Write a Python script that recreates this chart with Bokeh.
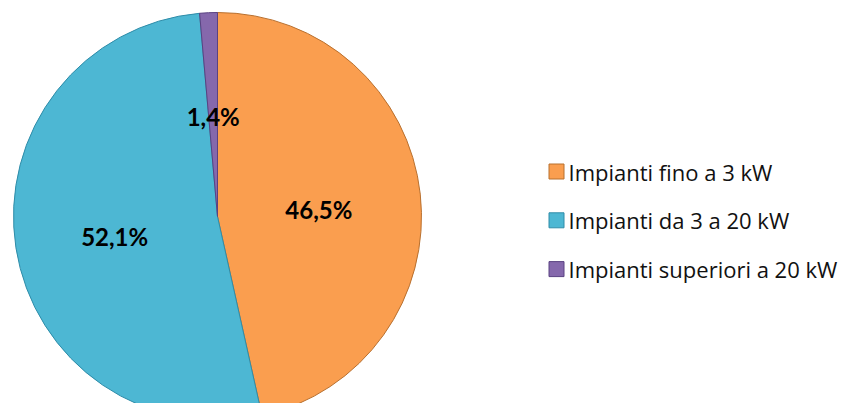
import numpy as np
from bokeh.plotting import figure
from bokeh.models import ColumnDataSource
from bokeh.core.properties import value
from bokeh.embed import file_html
from bokeh.resources import INLINE

# ---- data ----
categories = ["Impianti fino a 3 kW", "Impianti da 3 a 20 kW", "Impianti superiori a 20 kW"]
shares = [46.5, 52.1, 1.4]
share_labels = ["46,5%", "52,1%", "1,4%"]
colors = ["#FA9E4F", "#4DB7D3", "#8568AC"]
edge_colors = ["#B8702F", "#2F8CA8", "#5A4282"]

# ---- layout (pixel units) ----
W, H = 842, 403
cx, cy, R = 217, H - 216, 204
label_rfrac = [0.50, 0.51, 0.48]
label_nudge = [-4, -4, 2]
legend_x, legend_top, legend_step = 556, H - 171, 48.8

p = figure(width=W, height=H, x_range=(0, W), y_range=(0, H),
           output_backend="svg", toolbar_location=None, min_border=0)
p.axis.visible = False
p.grid.visible = False
p.outline_line_color = None
p.background_fill_color = "white"
p.border_fill_color = "white"

fr = np.array(shares, dtype=float) / sum(shares)
ends = np.cumsum(fr)
starts = ends - fr
start_angle = np.pi / 2 - starts * 2 * np.pi
end_angle = np.pi / 2 - ends * 2 * np.pi
mid_angle = (start_angle + end_angle) / 2

src = ColumnDataSource(dict(x=[cx] * 3, y=[cy] * 3, start=start_angle, end=end_angle,
                            color=colors, line=edge_colors))
p.wedge(x='x', y='y', radius=R, start_angle='start', end_angle='end', direction='clock',
        fill_color='color', line_color='line', line_width=1, source=src)

# labels
lx = cx + np.array(label_rfrac) * R * np.cos(mid_angle)
ly = cy + np.array(label_rfrac) * R * np.sin(mid_angle) + np.array(label_nudge)
p.text(x=lx, y=ly, text=share_labels, text_align="center", text_baseline="middle",
       text_font=value("Lato"), text_font_style="bold", text_font_size="24px",
       text_color="#000000")

# legend
ly_leg = [legend_top - i * legend_step for i in range(len(categories))]
p.rect(x=[legend_x] * 3, y=ly_leg, width=15, height=15, fill_color=colors,
       line_color=edge_colors, line_width=1)
p.text(x=[legend_x + 12] * 3, y=ly_leg, text=categories, text_align="left",
       text_baseline="middle", text_font=value("Open Sans"), text_font_size="22px",
       text_color="#111111")

open("out.html", "w").write(file_html(p, INLINE))
